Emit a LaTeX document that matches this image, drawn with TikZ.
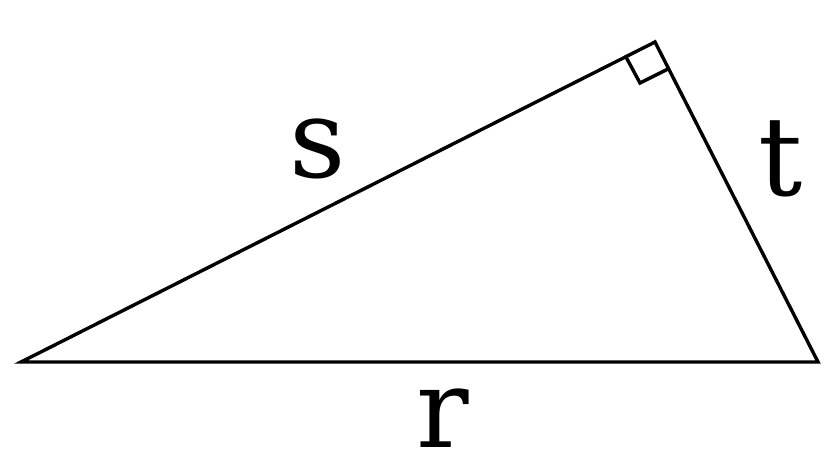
\documentclass[tikz,border=0pt]{standalone}
\usepackage{fontspec}
\setmainfont{DejaVu Serif}
\tikzset{
  side/.style={
    draw, line width=1.7pt, line join=miter
  },
  lbl/.style={
    inner sep=0mm, anchor=base, text depth=0pt, font=\fontsize{55}{60}\selectfont
  }
}
\begin{document}
\begin{tikzpicture}[x=0.5pt, y=-0.5pt]
 \useasboundingbox[fill=white] (0, 0) rectangle (840, 472);
 \coordinate (ra) at (21, 362);
 \coordinate (rb) at (818, 362);
 \coordinate (top) at (655, 42);
 \coordinate (m1) at (626, 57);
 \coordinate (m2) at (640, 83);
 \coordinate (m3) at (668, 69);

 \draw[side] (ra) -- (rb) -- (top) -- cycle;
 \draw[side] (m1) -- (m2) -- (m3);

 \node[lbl] (s) at (318, 177) {s};
 \node[lbl] (t) at (781, 195) {t};
 \node[lbl] (r) at (443, 447) {r};
\end{tikzpicture}
\end{document}
